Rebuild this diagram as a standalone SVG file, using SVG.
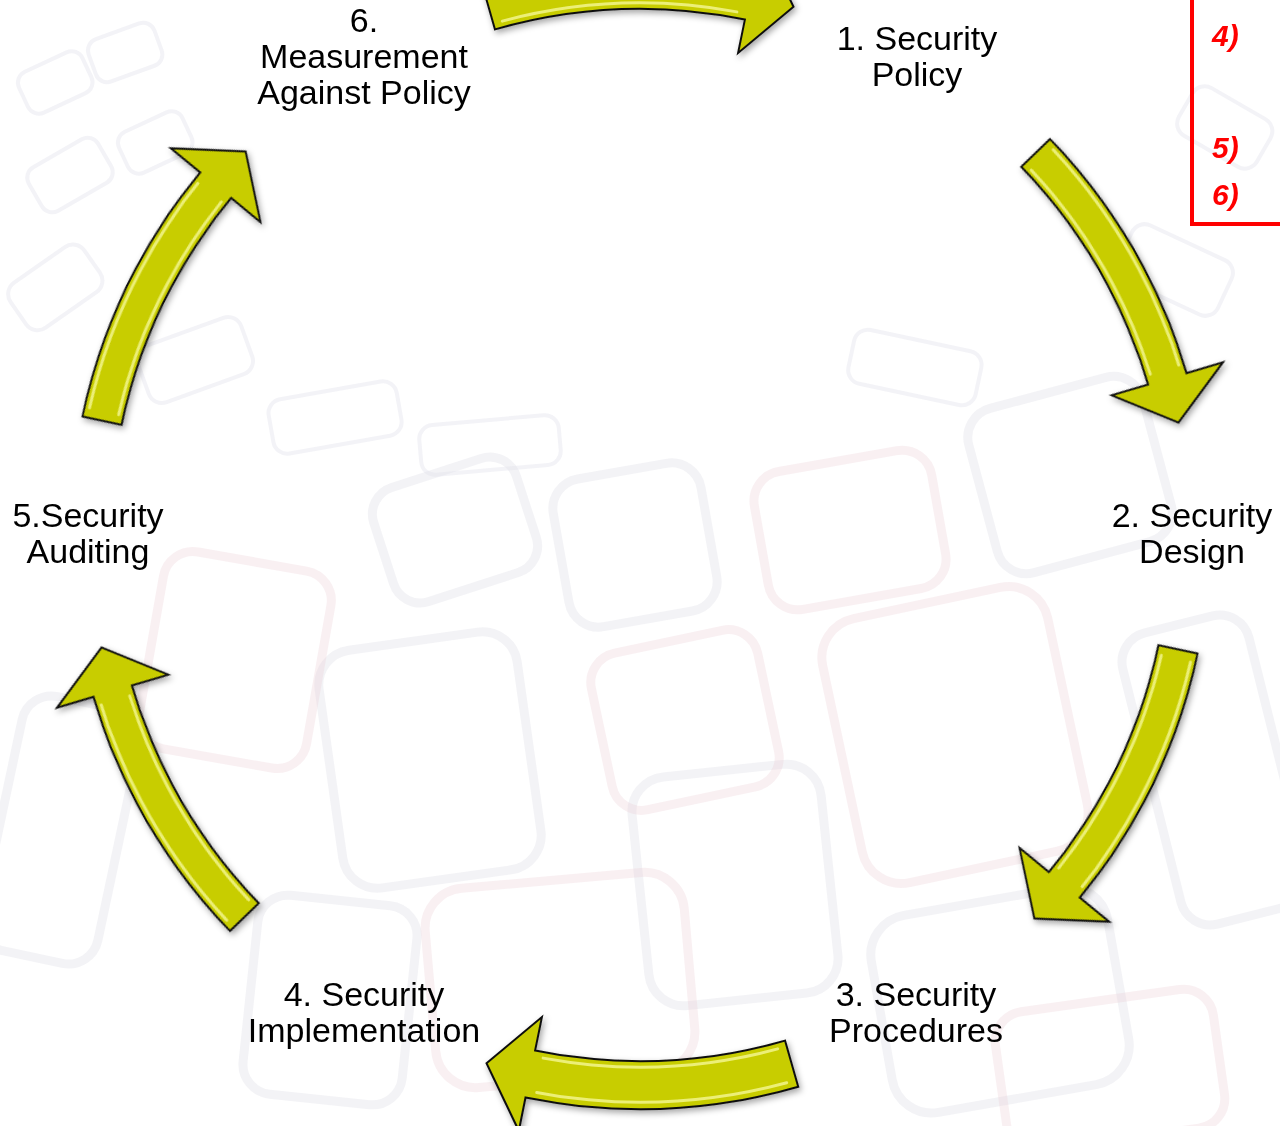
<svg xmlns="http://www.w3.org/2000/svg" width="1280" height="1126" viewBox="0 0 1280 1126">
  <defs>
    <style>
      .lbl { font-family: "Liberation Sans", Arial, sans-serif; font-size: 34px; fill: #000; text-anchor: middle; }
      .note { font-family: "Liberation Sans", Arial, sans-serif; font-size: 30px; font-weight: bold; font-style: italic; fill: #ff0000; }
      .arrow { fill: #c8cd00; stroke: #111; stroke-width: 2; stroke-linejoin: miter; }
      .shine { fill: none; stroke: #f2f58c; stroke-width: 3; stroke-linecap: round; opacity: 0.85; }
      .bg-g { fill: none; stroke: #dcdce6; stroke-width: 9; opacity: 0.35; }
      .bg-p { fill: none; stroke: #ecccd3; stroke-width: 9; opacity: 0.3; }
      .bg-s { fill: none; stroke: #e2e2ea; stroke-width: 4; opacity: 0.4; }
    </style>
    <filter id="shadow" x="-20%" y="-20%" width="140%" height="140%">
      <feDropShadow dx="2" dy="3" stdDeviation="3" flood-color="#000" flood-opacity="0.35"/>
    </filter>
    <!-- curved block arrow, pivot at the ring centre, pointing clockwise; wide body -->
    <g id="arrowWide">
      <path class="arrow" d="M -158.2 -551.8 A 574 574 0 0 1 114.5 -562.5 L 121.2 -595.8 L 153.5 -528.2 L 98.1 -482.1 L 104.9 -515.4 A 526 526 0 0 0 -145.0 -505.6 Z"/>
      <path class="shine" d="M -137.7 -513.9 A 532 532 0 0 1 96.9 -523.1"/>
      <path class="shine" d="M -146.7 -547.7 A 567 567 0 0 1 103.3 -557.5"/>
    </g>
    <!-- same arrow with a slimmer body -->
    <g id="arrowSlim">
      <path class="arrow" d="M -157.1 -547.9 A 570 570 0 0 1 113.7 -558.5 L 121.2 -595.8 L 153.5 -528.2 L 98.1 -482.1 L 105.7 -519.3 A 530 530 0 0 0 -146.1 -509.5 Z"/>
      <path class="shine" d="M -138.5 -516.8 A 535 535 0 0 1 97.5 -526.1"/>
      <path class="shine" d="M -146.2 -545.7 A 565 565 0 0 1 102.9 -555.6"/>
    </g>
  </defs>

  <rect width="1280" height="1126" fill="#ffffff"/>

  <!-- faint chain-link backdrop -->
  <g id="backdrop">
    <rect class="bg-g" x="330" y="640" width="200" height="240" rx="35" transform="rotate(-8 430 760)"/>
    <rect class="bg-g" x="560" y="470" width="150" height="150" rx="30" transform="rotate(-10 635 545)"/>
    <rect class="bg-g" x="640" y="770" width="190" height="230" rx="35" transform="rotate(-6 735 885)"/>
    <rect class="bg-p" x="840" y="600" width="230" height="270" rx="40" transform="rotate(-12 955 735)"/>
    <rect class="bg-g" x="980" y="390" width="180" height="170" rx="30" transform="rotate(-15 1070 475)"/>
    <rect class="bg-p" x="150" y="560" width="170" height="200" rx="30" transform="rotate(10 235 660)"/>
    <rect class="bg-g" x="0" y="700" width="120" height="260" rx="30" transform="rotate(12 60 830)"/>
    <rect class="bg-p" x="430" y="880" width="260" height="200" rx="40" transform="rotate(-5 560 980)"/>
    <rect class="bg-g" x="1150" y="620" width="130" height="300" rx="30" transform="rotate(-14 1215 770)"/>
    <rect class="bg-p" x="760" y="460" width="180" height="140" rx="30" transform="rotate(-10 850 530)"/>
    <rect class="bg-g" x="250" y="900" width="160" height="200" rx="30" transform="rotate(6 330 1000)"/>
    <rect class="bg-g" x="880" y="900" width="240" height="200" rx="40" transform="rotate(-10 1000 1000)"/>
    <rect class="bg-p" x="1000" y="1000" width="220" height="140" rx="30" transform="rotate(-8 1110 1070)"/>
    <rect class="bg-g" x="380" y="470" width="150" height="120" rx="28" transform="rotate(-18 455 530)"/>
    <rect class="bg-p" x="600" y="640" width="170" height="160" rx="30" transform="rotate(-12 685 720)"/>
    <rect class="bg-s" x="20" y="60" width="70" height="45" rx="12" transform="rotate(-25 55 82)"/>
    <rect class="bg-s" x="90" y="30" width="70" height="45" rx="12" transform="rotate(-20 125 52)"/>
    <rect class="bg-s" x="30" y="150" width="80" height="50" rx="12" transform="rotate(-30 70 175)"/>
    <rect class="bg-s" x="120" y="120" width="70" height="45" rx="12" transform="rotate(-25 155 142)"/>
    <rect class="bg-s" x="10" y="260" width="90" height="55" rx="14" transform="rotate(-35 55 287)"/>
    <rect class="bg-s" x="140" y="330" width="110" height="60" rx="14" transform="rotate(-20 195 360)"/>
    <rect class="bg-s" x="270" y="390" width="130" height="55" rx="14" transform="rotate(-10 335 417)"/>
    <rect class="bg-s" x="420" y="420" width="140" height="50" rx="14" transform="rotate(-5 490 445)"/>
    <rect class="bg-s" x="1120" y="240" width="110" height="60" rx="14" transform="rotate(25 1175 270)"/>
    <rect class="bg-s" x="1180" y="100" width="90" height="55" rx="14" transform="rotate(30 1225 127)"/>
    <rect class="bg-s" x="850" y="340" width="130" height="55" rx="14" transform="rotate(12 915 367)"/>
  </g>

  <!-- cycle arrows, rotated about the ring centre (640, 535) -->
  <g id="connectors" filter="url(#shadow)">
    <use href="#arrowWide" transform="translate(640 535) rotate(0)"/>
    <use href="#arrowSlim" transform="translate(640 535) rotate(62)"/>
    <use href="#arrowSlim" transform="translate(640 535) rotate(118)"/>
    <use href="#arrowWide" transform="translate(640 535) rotate(180)"/>
    <use href="#arrowSlim" transform="translate(640 535) rotate(242)"/>
    <use href="#arrowSlim" transform="translate(640 535) rotate(298)"/>
  </g>

  <g id="node-1">
    <text class="lbl" x="917" y="50">1. Security</text>
    <text class="lbl" x="917" y="86">Policy</text>
  </g>
  <g id="node-2">
    <text class="lbl" x="1192" y="527">2. Security</text>
    <text class="lbl" x="1192" y="563">Design</text>
  </g>
  <g id="node-3">
    <text class="lbl" x="916" y="1006">3. Security</text>
    <text class="lbl" x="916" y="1042">Procedures</text>
  </g>
  <g id="node-4">
    <text class="lbl" x="364" y="1006">4. Security</text>
    <text class="lbl" x="364" y="1042">Implementation</text>
  </g>
  <g id="node-5">
    <text class="lbl" x="88" y="527">5.Security</text>
    <text class="lbl" x="88" y="563">Auditing</text>
  </g>
  <g id="node-6">
    <text class="lbl" x="364" y="32">6.</text>
    <text class="lbl" x="364" y="68">Measurement</text>
    <text class="lbl" x="364" y="104">Against Policy</text>
  </g>

  <!-- red note panel at the top right -->
  <g id="note-panel">
    <path d="M 1192 0 L 1192 224 L 1280 224" fill="none" stroke="#ff0000" stroke-width="4"/>
    <text class="note" x="1212" y="46">4)</text>
    <text class="note" x="1212" y="158">5)</text>
    <text class="note" x="1212" y="205">6)</text>
  </g>
</svg>
